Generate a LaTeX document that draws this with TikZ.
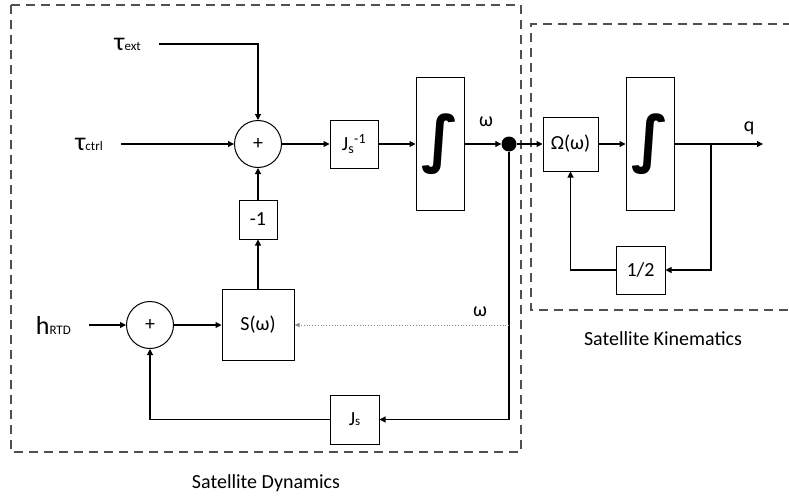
\documentclass[tikz,border=0pt]{standalone}
\usepackage{fontspec}
\setmainfont{Carlito}
\newfontfamily\symfont{DejaVu Sans}
\usepackage{tikz}
\usetikzlibrary{
  arrows.meta,
  positioning,
  calc,
}
\definecolor{boxgray}{HTML}{505050}
\definecolor{tapgray}{HTML}{8C8C8C}
\newcommand{\bigsym}[1]{{\fontsize{26}{26}\selectfont #1}}
\newcommand{\smallsub}[1]{{\fontsize{13}{13}\selectfont #1}}
\newcommand{\integ}{{\symfont\fontsize{62}{62}\selectfont\bfseries ∫}}

\begin{document}
\begin{tikzpicture}[x=1pt, y=-1pt,
  every node/.style={font=\fontsize{20}{24}\selectfont},
  block/.style={draw, line width=1pt, inner sep=0pt, minimum width=48pt, minimum height=48pt},
  intblock/.style={block, minimum height=133pt},
  sumnode/.style={draw, circle, line width=1pt, minimum size=47pt, inner sep=0pt},
  sig/.style={-{Triangle[length=6pt, width=6pt]}, line width=1.1pt},
  tapline/.style={-{Triangle[length=5pt, width=4pt]}, tapgray, dotted, line width=0.8pt},
  groupbox/.style={boxgray, line width=1.5pt, dash pattern=on 9pt off 6pt},
  inlabel/.style={anchor=east, inner xsep=18pt},
]
  \useasboundingbox (0,0) rectangle (789,495);
  % group boxes
  \draw[groupbox] (11,5) rectangle (521,452);
  \draw[groupbox] (792,24) -- (531,24) -- (531,310) -- (792,310);
  \node (dynlab) at (266,483) {Satellite Dynamics};
  \node (kinlab) at (663,339) {Satellite Kinematics};
  % inputs
  \node[inlabel] (text) at (159,44) {\bigsym{τ}\smallsub{ext}};
  \node[inlabel] (tctrl) at (121,144) {\bigsym{τ}\smallsub{ctrl}};
  \node[inlabel] (hrtd) at (89,325) {\bigsym{h}\smallsub{RTD}};
  % summing junctions
  \node[sumnode] (sum1) at (258,144) {+};
  \node[sumnode] (sum2) at (150,325) {+};
  % dynamics blocks
  \node[block] (jinv) at (354,144) {J\textsubscript{s}\textsuperscript{-1}};
  \node[block, minimum width=38pt, minimum height=39pt] (neg) at (258,219.5) {-1};
  \node[block, minimum width=72pt, minimum height=71pt] (sfun) at (258,325) {S(ω)};
  \node[block, minimum width=49pt, minimum height=49pt] (jmat) at (354.5,419.5) {J\smallsub{s}};
  \node[intblock] (int1) at (440,144) {\integ};
  \node[circle, fill, minimum size=15pt, inner sep=0pt] (tap) at (509,144) {};
  % kinematics blocks
  \node[block, minimum width=55pt, minimum height=54pt] (omat) at (570.5,144) {Ω(ω)};
  \node[intblock] (int2) at (650,144) {\integ};
  \node[block, minimum width=49pt, minimum height=48pt] (half) at (640.5,270) {1/2};
  \coordinate (qtap) at (711,144);
  \coordinate (qout) at (763,144);
  \coordinate (wtap) at (tap |- sfun.east);
  % signal labels
  \node (wlab1) at (486,122) {ω};
  \node (wlab2) at (480,312) {ω};
  \node (qlab) at (749,128) {q};
  % forward path
  \draw[sig] (text.east) -| (sum1.north);
  \draw[sig] (tctrl.east) -- (sum1.west);
  \draw[sig] (sum1) -- (jinv);
  \draw[sig] (jinv) -- (int1);
  \draw[sig] (int1) -- (tap);
  \draw[sig] (tap) -- (omat);
  \draw[sig] (omat) -- (int2);
  \draw[sig] (int2.east) -- (qout);
  \draw[sig] (qtap) |- (half.east);
  \draw[sig] (half.west) -| (omat.south);
  % gyroscopic loop
  \draw[sig] (hrtd.east) -- (sum2.west);
  \draw[sig] (sum2) -- (sfun);
  \draw[sig] (sfun) -- (neg);
  \draw[sig] (neg) -- (sum1);
  \draw[sig] (tap.south) |- (jmat.east);
  \draw[sig] (jmat.west) -| (sum2.south);
  \draw[tapline] (wtap) -- (sfun.east);
\end{tikzpicture}
\end{document}
